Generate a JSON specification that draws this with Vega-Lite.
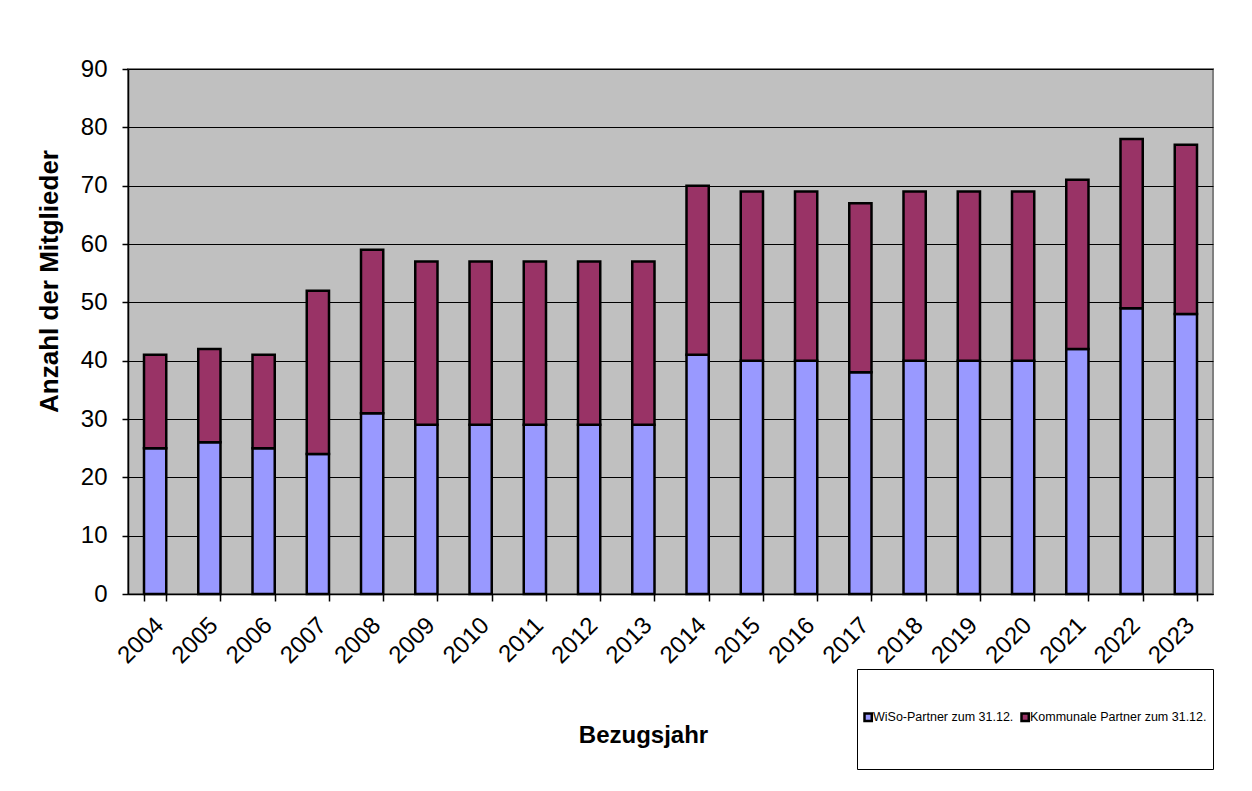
{
  "$schema": "https://vega.github.io/schema/vega-lite/v6.json",
  "autosize": {"type": "none"},
  "padding": {"left": 128, "top": 69, "right": 39, "bottom": 197},
  "width": 1085,
  "height": 525,
  "background": "white",
  "config": {
    "font": "Liberation Sans",
    "view": {"fill": "#C0C0C0", "stroke": "#808080", "strokeWidth": 2}
  },
  "data": {
    "values": [
      {"Jahr": "2004", "Serie": "WiSo-Partner zum 31.12.", "Anzahl": 25},
      {"Jahr": "2004", "Serie": "Kommunale Partner zum 31.12.", "Anzahl": 16},
      {"Jahr": "2005", "Serie": "WiSo-Partner zum 31.12.", "Anzahl": 26},
      {"Jahr": "2005", "Serie": "Kommunale Partner zum 31.12.", "Anzahl": 16},
      {"Jahr": "2006", "Serie": "WiSo-Partner zum 31.12.", "Anzahl": 25},
      {"Jahr": "2006", "Serie": "Kommunale Partner zum 31.12.", "Anzahl": 16},
      {"Jahr": "2007", "Serie": "WiSo-Partner zum 31.12.", "Anzahl": 24},
      {"Jahr": "2007", "Serie": "Kommunale Partner zum 31.12.", "Anzahl": 28},
      {"Jahr": "2008", "Serie": "WiSo-Partner zum 31.12.", "Anzahl": 31},
      {"Jahr": "2008", "Serie": "Kommunale Partner zum 31.12.", "Anzahl": 28},
      {"Jahr": "2009", "Serie": "WiSo-Partner zum 31.12.", "Anzahl": 29},
      {"Jahr": "2009", "Serie": "Kommunale Partner zum 31.12.", "Anzahl": 28},
      {"Jahr": "2010", "Serie": "WiSo-Partner zum 31.12.", "Anzahl": 29},
      {"Jahr": "2010", "Serie": "Kommunale Partner zum 31.12.", "Anzahl": 28},
      {"Jahr": "2011", "Serie": "WiSo-Partner zum 31.12.", "Anzahl": 29},
      {"Jahr": "2011", "Serie": "Kommunale Partner zum 31.12.", "Anzahl": 28},
      {"Jahr": "2012", "Serie": "WiSo-Partner zum 31.12.", "Anzahl": 29},
      {"Jahr": "2012", "Serie": "Kommunale Partner zum 31.12.", "Anzahl": 28},
      {"Jahr": "2013", "Serie": "WiSo-Partner zum 31.12.", "Anzahl": 29},
      {"Jahr": "2013", "Serie": "Kommunale Partner zum 31.12.", "Anzahl": 28},
      {"Jahr": "2014", "Serie": "WiSo-Partner zum 31.12.", "Anzahl": 41},
      {"Jahr": "2014", "Serie": "Kommunale Partner zum 31.12.", "Anzahl": 29},
      {"Jahr": "2015", "Serie": "WiSo-Partner zum 31.12.", "Anzahl": 40},
      {"Jahr": "2015", "Serie": "Kommunale Partner zum 31.12.", "Anzahl": 29},
      {"Jahr": "2016", "Serie": "WiSo-Partner zum 31.12.", "Anzahl": 40},
      {"Jahr": "2016", "Serie": "Kommunale Partner zum 31.12.", "Anzahl": 29},
      {"Jahr": "2017", "Serie": "WiSo-Partner zum 31.12.", "Anzahl": 38},
      {"Jahr": "2017", "Serie": "Kommunale Partner zum 31.12.", "Anzahl": 29},
      {"Jahr": "2018", "Serie": "WiSo-Partner zum 31.12.", "Anzahl": 40},
      {"Jahr": "2018", "Serie": "Kommunale Partner zum 31.12.", "Anzahl": 29},
      {"Jahr": "2019", "Serie": "WiSo-Partner zum 31.12.", "Anzahl": 40},
      {"Jahr": "2019", "Serie": "Kommunale Partner zum 31.12.", "Anzahl": 29},
      {"Jahr": "2020", "Serie": "WiSo-Partner zum 31.12.", "Anzahl": 40},
      {"Jahr": "2020", "Serie": "Kommunale Partner zum 31.12.", "Anzahl": 29},
      {"Jahr": "2021", "Serie": "WiSo-Partner zum 31.12.", "Anzahl": 42},
      {"Jahr": "2021", "Serie": "Kommunale Partner zum 31.12.", "Anzahl": 29},
      {"Jahr": "2022", "Serie": "WiSo-Partner zum 31.12.", "Anzahl": 49},
      {"Jahr": "2022", "Serie": "Kommunale Partner zum 31.12.", "Anzahl": 29},
      {"Jahr": "2023", "Serie": "WiSo-Partner zum 31.12.", "Anzahl": 48},
      {"Jahr": "2023", "Serie": "Kommunale Partner zum 31.12.", "Anzahl": 29}
    ]
  },
  "mark": {"type": "bar", "stroke": "black", "strokeWidth": 2.5},
  "encoding": {
    "x": {
      "field": "Jahr",
      "type": "ordinal",
      "scale": {"paddingInner": 0.59, "paddingOuter": 0.295},
      "axis": {
        "title": "Bezugsjahr",
        "titleFontSize": 24,
        "titleFontWeight": "bold",
        "titleColor": "black",
        "titleX": 515,
        "titleY": 141,
        "titleBaseline": "middle",
        "titleAlign": "center",
        "labelAngle": -45,
        "labelFontSize": 24,
        "labelColor": "black",
        "labelPadding": 12,
        "labelOffset": -4,
        "domainColor": "black",
        "domainWidth": 1.5,
        "tickColor": "black",
        "tickBand": "extent",
        "tickSize": 7,
        "tickWidth": 1.5
      }
    },
    "y": {
      "field": "Anzahl",
      "type": "quantitative",
      "stack": "zero",
      "scale": {"domain": [0, 90], "nice": false},
      "axis": {
        "title": "Anzahl der Mitglieder",
        "titleFontSize": 26,
        "titleFontWeight": "bold",
        "titleColor": "black",
        "titleAngle": -90,
        "titleX": -79,
        "titleY": 212,
        "titleBaseline": "middle",
        "titleAlign": "center",
        "values": [0, 10, 20, 30, 40, 50, 60, 70, 80, 90],
        "labelFontSize": 24,
        "labelColor": "black",
        "labelPadding": 15,
        "grid": true,
        "gridColor": "black",
        "gridWidth": 1,
        "domainColor": "black",
        "domainWidth": 1.5,
        "tickColor": "black",
        "tickSize": 6,
        "tickWidth": 1.5
      }
    },
    "color": {
      "field": "Serie",
      "type": "nominal",
      "sort": ["WiSo-Partner zum 31.12.", "Kommunale Partner zum 31.12."],
      "scale": {
        "domain": ["WiSo-Partner zum 31.12.", "Kommunale Partner zum 31.12."],
        "range": ["#9999FF", "#993366"]
      },
      "legend": {
        "title": null,
        "orient": "none",
        "legendX": 729,
        "legendY": 600,
        "direction": "horizontal",
        "columns": 2,
        "columnPadding": 2,
        "symbolType": "M0,-1M0,1M-1,-0.09H-0.82V0.09H-1Z",
        "symbolSize": 6561,
        "symbolStrokeColor": "black",
        "symbolStrokeWidth": 2.5,
        "labelFontSize": 12.5,
        "labelColor": "black",
        "labelOffset": -74,
        "labelLimit": 400,
        "padding": 6,
        "strokeColor": "black",
        "fillColor": "white"
      }
    },
    "order": {"field": "Serie", "sort": "descending"}
  }
}
